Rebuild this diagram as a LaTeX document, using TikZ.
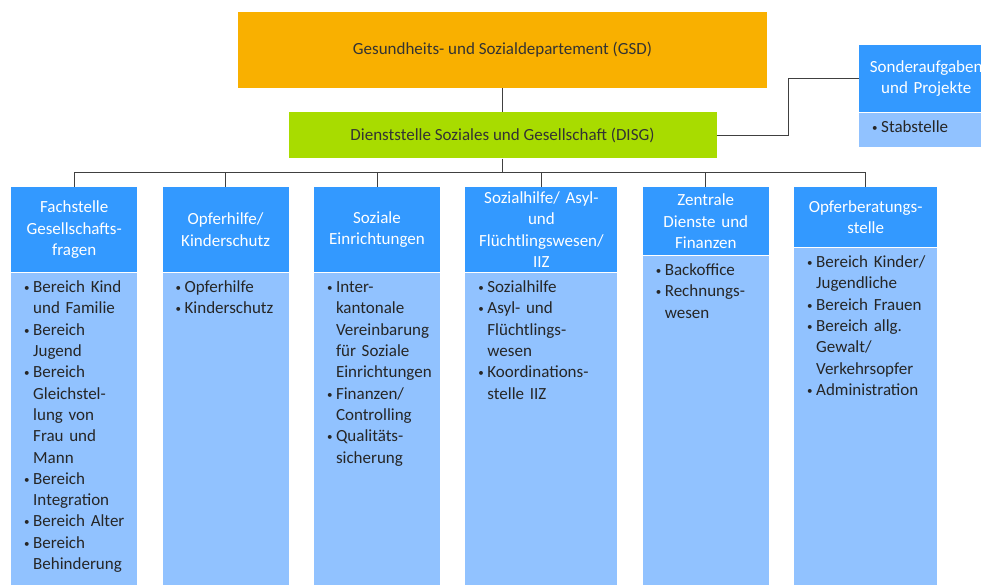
\documentclass[tikz,border=0pt]{standalone}
\usepackage{fontspec}
\setmainfont{Carlito}
\usetikzlibrary{positioning}

\definecolor{gsdorange}{RGB}{249,176,0}
\definecolor{disggreen}{RGB}{168,220,0}
\definecolor{kopfblau}{RGB}{51,153,255}
\definecolor{listeblau}{RGB}{145,194,255}

\newcommand{\pkt}{\hspace*{13pt}\makebox[9pt][l]{\raisebox{1pt}{\fontsize{11}{11}\selectfont\textbullet}}}
\newcommand{\wtr}{\hspace*{22pt}}

\begin{document}
\begin{tikzpicture}[x=1pt,y=-1pt,
  every node/.style={font=\fontsize{17}{21.3}\selectfont},
  amt/.style={inner sep=0pt,text=black!80},
  kopf/.style={fill=kopfblau,text=white,align=center,inner sep=0pt,
    text width=#1,minimum height=85pt,anchor=north west},
  liste/.style={fill=listeblau,text=black!85,align=left,anchor=north,
    text width=#1,inner xsep=0pt,inner ysep=8pt,text height=12pt,text depth=330pt},
  linie/.style={draw=black!75,line width=1pt}]

  \useasboundingbox (0,0) rectangle (981,584);
  \clip (0,0) rectangle (981,584);

  \node[amt,fill=gsdorange,minimum width=529pt,minimum height=76pt] (gsd) at (502.5,50)
    {Gesundheits- und Sozialdepartement (GSD)};
  \node[amt,fill=disggreen,minimum width=428pt,minimum height=46pt,below=24pt of gsd] (disg)
    {Dienststelle Soziales und Gesellschaft (DISG)};

  % Stabstelle rechts
  \node[kopf=134pt,minimum height=67pt] (sh) at (859,45) {Sonderaufgaben\\ und Projekte};
  \node[liste=134pt,text depth=6pt,below=0pt of sh] (sl) {\pkt Stabstelle};

  % Abteilungen
  \node[kopf=126pt] (k1) at (11,187) {Fachstelle\\ Gesellschafts-\\ fragen};
  \node[kopf=126pt,right=25pt of k1.north east,anchor=north west] (k2) {Opferhilfe/\\ Kinderschutz};
  \node[kopf=126pt,right=25pt of k2.north east,anchor=north west] (k3) {Soziale\\ Einrichtungen};
  \node[kopf=152pt,right=25pt of k3.north east,anchor=north west] (k4)
    {Sozialhilfe/ Asyl-\\ und\\ Flüchtlingswesen/\\ IIZ};
  \node[kopf=126pt,minimum height=68pt,right=25pt of k4.north east,anchor=north west] (k5)
    {Zentrale\\ Dienste und\\ Finanzen};
  \node[kopf=143pt,minimum height=60pt,right=25pt of k5.north east,anchor=north west] (k6)
    {Opferberatungs-\\ stelle};

  \node[liste=126pt,below=0pt of k1] (l1) {\pkt Bereich Kind\\ \wtr und Familie\\ \pkt Bereich\\
    \wtr Jugend\\ \pkt Bereich\\ \wtr Gleichstel-\\ \wtr lung von\\ \wtr Frau und\\ \wtr Mann\\
    \pkt Bereich\\ \wtr Integration\\ \pkt Bereich Alter\\ \pkt Bereich\\ \wtr Behinderung};
  \node[liste=126pt,below=0pt of k2] (l2) {\pkt Opferhilfe\\ \pkt Kinderschutz};
  \node[liste=126pt,below=0pt of k3] (l3) {\pkt Inter-\\ \wtr kantonale\\ \wtr Vereinbarung\\
    \wtr für Soziale\\ \wtr Einrichtungen\\ \pkt Finanzen/\\ \wtr Controlling\\
    \pkt Qualitäts-\\ \wtr sicherung};
  \node[liste=152pt,below=0pt of k4] (l4) {\pkt Sozialhilfe\\ \pkt Asyl- und\\ \wtr Flüchtlings-\\
    \wtr wesen\\ \pkt Koordinations-\\ \wtr stelle IIZ};
  \node[liste=126pt,below=0pt of k5] (l5) {\pkt Backoffice\\ \pkt Rechnungs-\\ \wtr wesen};
  \node[liste=143pt,below=0pt of k6] (l6) {\pkt Bereich Kinder/\\ \wtr Jugendliche\\
    \pkt Bereich Frauen\\ \pkt Bereich allg.\\ \wtr Gewalt/\\ \wtr Verkehrsopfer\\
    \pkt Administration};

  % Verbindungen
  \coordinate (bus) at (0,172.5);
  \coordinate (knick) at (788,0);
  \draw[linie] (gsd) -- (disg);
  \draw[linie] (disg) -- (disg |- bus);
  \draw[linie] (k1.north |- bus) -- (k6.north |- bus);
  \foreach \k in {1,...,6}
    \draw[linie] (k\k.north |- bus) -- (k\k.north);
  \draw[linie] (disg.east) -- (disg.east -| knick) |- (sh.west);
\end{tikzpicture}
\end{document}
